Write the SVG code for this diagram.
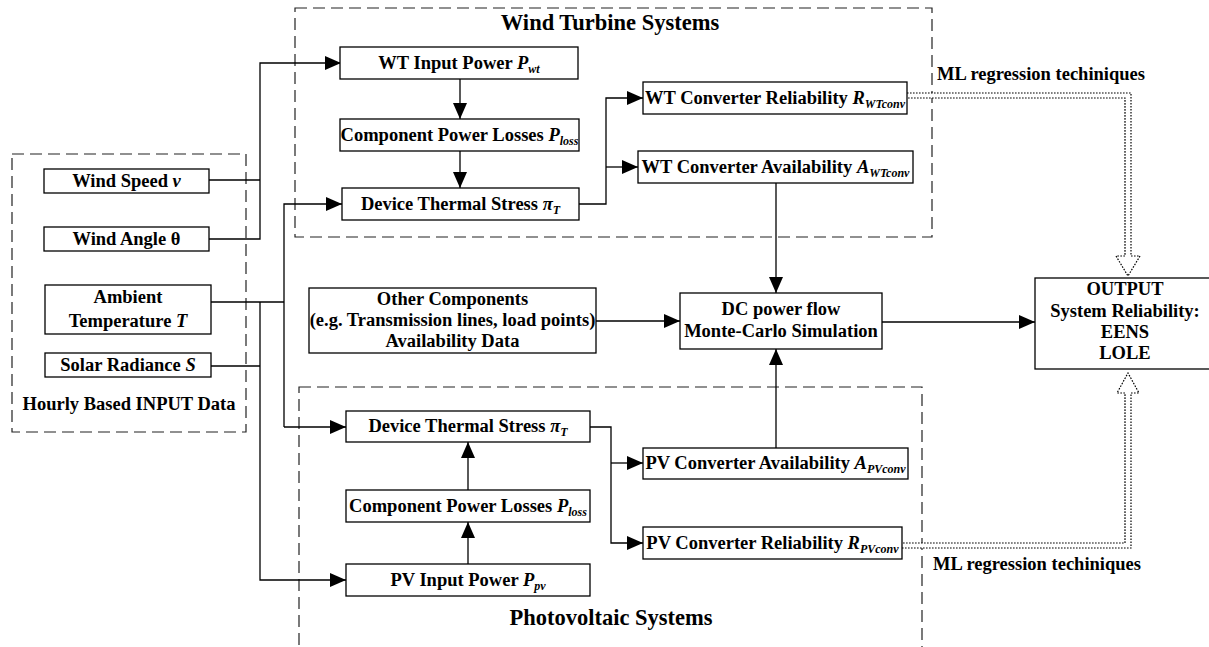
<svg xmlns="http://www.w3.org/2000/svg" width="1209" height="647" viewBox="0 0 1209 647">
  <style>
    text { font-family: "Liberation Serif", "Times New Roman", serif; font-weight: bold; font-size: 18.5px; fill: #000; }
    .c { text-anchor: middle; }
    .title { font-size: 22.5px; }
    .it { font-style: italic; }
    .sub { font-style: italic; font-size: 12px; }
    .box { fill: #fff; stroke: #000; stroke-width: 1.3; }
    .group { fill: none; stroke: #222; stroke-width: 1.2; stroke-dasharray: 12 6; }
    .wire { fill: none; stroke: #000; stroke-width: 1.3; }
    .arrow { fill: none; stroke: #000; stroke-width: 1.3; marker-end: url(#head); }
    .hollow { fill: #fff; stroke: #000; stroke-width: 1.2; stroke-dasharray: 1.6 1.4; }
  </style>
  <defs>
    <marker id="head" markerUnits="userSpaceOnUse" markerWidth="16" markerHeight="14" refX="16" refY="7" orient="auto">
      <path d="M0,0 L16,7 L0,14 z" fill="#000"/>
    </marker>
  </defs>

  <rect width="1209" height="647" fill="#fff"/>

  <!-- dashed grouping frames -->
  <g id="frames">
    <rect class="group" x="12" y="154" width="234" height="278"/>
    <rect class="group" x="295" y="8" width="637" height="229"/>
    <rect class="group" x="299" y="387" width="623" height="280"/>
    <text class="c title" x="610" y="30">Wind Turbine Systems</text>
    <text class="c title" x="611" y="625">Photovoltaic Systems</text>
    <text class="c" x="129" y="410">Hourly Based INPUT Data</text>
  </g>

  <!-- connectors -->
  <g id="connectors">
    <path class="wire" d="M209,180 H260"/>
    <path class="arrow" d="M209,239 H260 V63 H341"/>
    <path class="wire" d="M211,302 H284"/>
    <path class="arrow" d="M284,427 V204 H342"/>
    <path class="arrow" d="M284,427 H346"/>
    <path class="arrow" d="M260,302 V580 H346"/>
    <path class="wire" d="M211,366 H260"/>
    <path class="arrow" d="M460,79 V119"/>
    <path class="arrow" d="M460,151 V188"/>
    <path class="arrow" d="M579,204 H606 V98 H643"/>
    <path class="arrow" d="M606,167 H638"/>
    <path class="arrow" d="M776,183 V293"/>
    <path class="arrow" d="M596,321 H680"/>
    <path class="arrow" d="M882,322 H1035"/>
    <path class="arrow" d="M776,448 V349"/>
    <path class="arrow" d="M468,564 V522"/>
    <path class="arrow" d="M468,490 V442"/>
    <path class="arrow" d="M590,427 H611 V543 H643"/>
    <path class="arrow" d="M611,463 H643"/>
    <!-- hollow dotted regression arrows -->
    <path class="hollow" d="M907,93 H1131 V256 H1140 L1128,276 L1116,256 H1125 V98 H907"/>
    <path class="hollow" d="M902,548 H1131 V393 H1139 L1128,373 L1117,393 H1125 V543 H902"/>
    <text x="937" y="80">ML regression techiniques</text>
    <text x="933" y="570">ML regression techiniques</text>
  </g>

  <!-- input data nodes -->
  <g id="wind-speed">
    <rect class="box" x="44" y="169" width="165" height="24"/>
    <text class="c" x="126.5" y="187">Wind Speed <tspan class="it">v</tspan></text>
  </g>
  <g id="wind-angle">
    <rect class="box" x="44" y="227" width="165" height="24"/>
    <text class="c" x="126.5" y="245">Wind Angle θ</text>
  </g>
  <g id="ambient-temperature">
    <rect class="box" x="45" y="285" width="166" height="49"/>
    <text class="c" x="128" y="303">Ambient</text>
    <text class="c" x="128" y="327">Temperature <tspan class="it">T</tspan></text>
  </g>
  <g id="solar-radiance">
    <rect class="box" x="45" y="353" width="166" height="24"/>
    <text class="c" x="128" y="371">Solar Radiance <tspan class="it">S</tspan></text>
  </g>

  <!-- wind turbine chain -->
  <g id="wt-input-power">
    <rect class="box" x="340" y="47" width="238" height="32"/>
    <text class="c" x="459" y="69">WT Input Power <tspan class="it">P</tspan><tspan class="sub" dy="4">wt</tspan></text>
  </g>
  <g id="wt-power-losses">
    <rect class="box" x="340" y="119" width="239" height="32"/>
    <text class="c" x="459.5" y="141">Component Power Losses <tspan class="it">P</tspan><tspan class="sub" dy="4">loss</tspan></text>
  </g>
  <g id="wt-thermal-stress">
    <rect class="box" x="342" y="188" width="237" height="32"/>
    <text class="c" x="460.5" y="210">Device Thermal Stress <tspan class="it">π</tspan><tspan class="sub" dy="4">T</tspan></text>
  </g>
  <g id="wt-reliability">
    <rect class="box" x="643" y="82" width="264" height="32"/>
    <text class="c" x="775" y="104">WT Converter Reliability <tspan class="it">R</tspan><tspan class="sub" dy="4">WTconv</tspan></text>
  </g>
  <g id="wt-availability">
    <rect class="box" x="638" y="151" width="275" height="32"/>
    <text class="c" x="775.5" y="173">WT Converter Availability <tspan class="it">A</tspan><tspan class="sub" dy="4">WTconv</tspan></text>
  </g>

  <!-- system level -->
  <g id="other-components">
    <rect class="box" x="309" y="288" width="287" height="65"/>
    <text class="c" x="452.5" y="305">Other Components</text>
    <text class="c" x="452.5" y="326">(e.g. Transmission lines, load points)</text>
    <text class="c" x="452.5" y="347">Availability Data</text>
  </g>
  <g id="dc-power-flow">
    <rect class="box" x="680" y="293" width="202" height="56"/>
    <text class="c" x="781" y="315">DC power flow</text>
    <text class="c" x="781" y="337">Monte-Carlo Simulation</text>
  </g>
  <g id="output">
    <rect class="box" x="1035" y="278" width="180" height="91"/>
    <text class="c" x="1125" y="295">OUTPUT</text>
    <text class="c" x="1125" y="317">System Reliability:</text>
    <text class="c" x="1125" y="338">EENS</text>
    <text class="c" x="1125" y="359">LOLE</text>
  </g>

  <!-- photovoltaic chain -->
  <g id="pv-thermal-stress">
    <rect class="box" x="346" y="411" width="244" height="31"/>
    <text class="c" x="468" y="432">Device Thermal Stress <tspan class="it">π</tspan><tspan class="sub" dy="4">T</tspan></text>
  </g>
  <g id="pv-power-losses">
    <rect class="box" x="346" y="490" width="244" height="32"/>
    <text class="c" x="468" y="512">Component Power Losses <tspan class="it">P</tspan><tspan class="sub" dy="4">loss</tspan></text>
  </g>
  <g id="pv-input-power">
    <rect class="box" x="346" y="564" width="244" height="32"/>
    <text class="c" x="468" y="586">PV Input Power <tspan class="it">P</tspan><tspan class="sub" dy="4">pv</tspan></text>
  </g>
  <g id="pv-availability">
    <rect class="box" x="643" y="448" width="265" height="31"/>
    <text class="c" x="775.5" y="469">PV Converter Availability <tspan class="it">A</tspan><tspan class="sub" dy="4">PVconv</tspan></text>
  </g>
  <g id="pv-reliability">
    <rect class="box" x="643" y="527" width="259" height="32"/>
    <text class="c" x="772.5" y="549">PV Converter Reliability <tspan class="it">R</tspan><tspan class="sub" dy="4">PVconv</tspan></text>
  </g>
</svg>
